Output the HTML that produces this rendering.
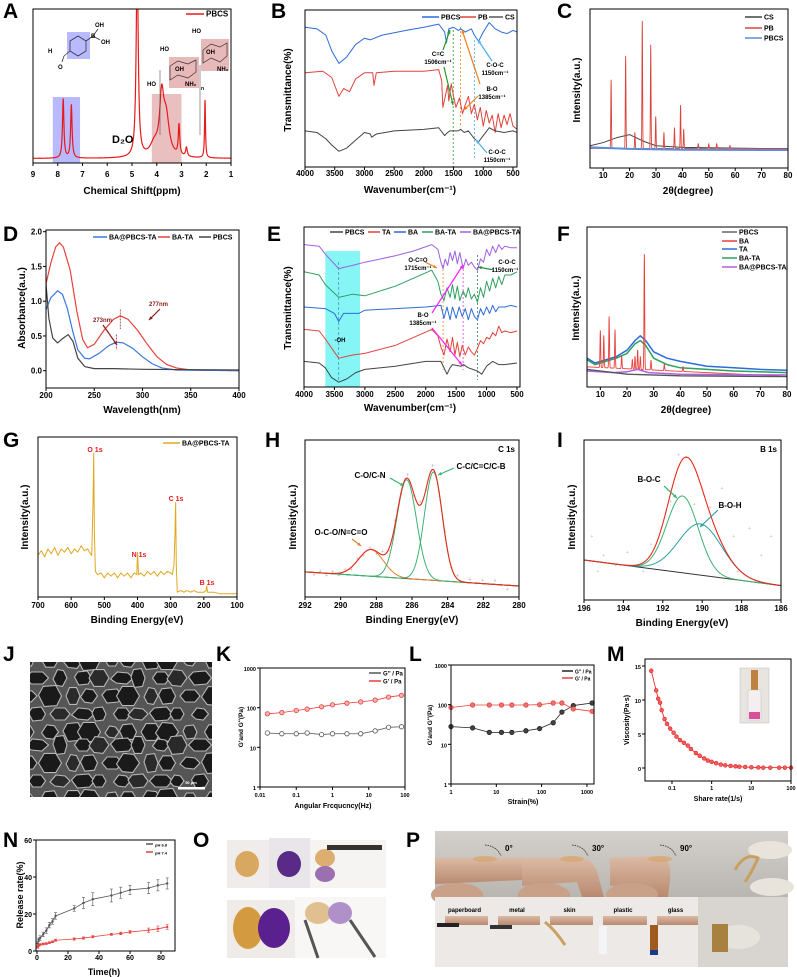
<!DOCTYPE html>
<html><head><meta charset="utf-8"><style>
html,body{margin:0;padding:0;background:#fff}
svg{display:block;font-family:"Liberation Sans",Arial,sans-serif}
text{font-weight:bold}
</style></head><body>
<svg id="fig" width="797" height="977" viewBox="0 0 797 977" xmlns="http://www.w3.org/2000/svg">
<defs>
<linearGradient id="skinbg" x1="0" y1="0" x2="0" y2="1"><stop offset="0" stop-color="#d4d1cd"/><stop offset="1" stop-color="#b9b5b0"/></linearGradient>
<linearGradient id="finger" x1="0" y1="0" x2="0" y2="1"><stop offset="0" stop-color="#dcbaa4"/><stop offset="1" stop-color="#b88a70"/></linearGradient>
<linearGradient id="sem" x1="0" y1="0" x2="1" y2="1"><stop offset="0" stop-color="#3a3a3a"/><stop offset="1" stop-color="#222"/></linearGradient>
</defs>
</svg>
<script>
// ---------------- DATA ----------------
// A: 1H NMR peaks
const nmrPos=[7.78,7.45,4.79,4.1,3.8,3.62,3.1,2.8,2.05];
const nmrHeight=[0.39,0.35,1.3,0.08,0.36,0.25,0.2,0.06,0.38];
const nmrWidth=[0.035,0.035,0.05,0.2,0.1,0.15,0.035,0.04,0.022];
// B: FTIR
const bPBCS=[[4000,89],[3800,88],[3650,84],[3550,74],[3430,66],[3300,70],[3150,78],[3000,82],[2900,81],[2700,84],[2300,87],[2000,89],[1750,91],[1650,86],[1620,79],[1580,88],[1500,89],[1420,87],[1380,88],[1300,86],[1200,88],[1150,84],[1080,80],[1000,86],[900,92],[800,88],[700,86],[600,85],[500,87],[430,86]];
const bPB=[[4000,60],[3700,61],[3550,57],[3430,45],[3350,50],[3250,48],[3150,56],[3000,60],[2860,60],[2840,52],[2800,60],[2500,61],[2000,61],[1750,62],[1700,55],[1680,38],[1640,45],[1600,52],[1580,42],[1540,53],[1500,45],[1460,38],[1400,44],[1350,34],[1300,40],[1250,45],[1200,34],[1150,40],[1100,30],[1050,38],[1000,26],[950,36],[900,28],[850,33],[800,22],[750,34],[700,25],[650,33],[600,27],[550,34],[500,26],[430,24]];
const bCS=[[4000,23],[3800,22],[3650,18],[3550,14],[3430,10],[3300,12],[3150,17],[3000,22],[2900,21],[2880,19],[2800,21],[2500,23],[2000,24],[1750,25],[1650,20],[1600,22],[1560,23],[1420,23],[1380,24],[1320,22],[1250,23],[1150,18],[1080,16],[1000,20],[900,25],[800,23],[650,22],[500,23],[430,22]];
// C: XRD
const cPBpos=[13,18.5,22,24.8,28,29.9,33,37,39.3,40.5,46,50,53,58];
const cPBh=[43,58,10,80,65,20,10,13,27,12,3,3,3,2];
const cCS=[[5,14],[10,16],[15,19],[20,21],[25,17],[30,14],[40,13],[60,12.5],[80,12]];
const cPBCS=[[5,13],[20,12],[40,11.5],[80,11.3]];
// D: UV-vis
const dBATA=[[200,1.25],[205,1.55],[210,1.78],[214,1.84],[218,1.78],[225,1.45],[232,0.85],[238,0.45],[243,0.33],[250,0.38],[260,0.58],[270,0.74],[277,0.79],[285,0.74],[295,0.58],[305,0.38],[315,0.2],[325,0.09],[335,0.04],[350,0.01],[400,0.0]];
const dBAPBCS=[[200,0.88],[205,1.05],[212,1.15],[217,1.1],[222,0.9],[228,0.55],[233,0.3],[240,0.18],[245,0.17],[255,0.25],[265,0.36],[273,0.41],[280,0.4],[290,0.32],[300,0.2],[310,0.1],[320,0.04],[335,0.01],[400,0]];
const dPBCS=[[200,1.25],[203,0.75],[207,0.47],[212,0.4],[217,0.46],[223,0.52],[228,0.42],[233,0.18],[240,0.06],[250,0.03],[270,0.03],[300,0.02],[400,0.01]];
// E: FTIR
const eBAPBCS=[[4000,89],[3750,88],[3650,83],[3430,74],[3200,76],[3000,78],[2500,82],[2200,85],[1900,89],[1800,86],[1750,78],[1715,74],[1680,80],[1640,76],[1600,84],[1560,79],[1520,85],[1480,77],[1440,84],[1385,74],[1340,80],[1300,76],[1250,78],[1200,75],[1150,73],[1100,80],[1050,78],[1000,86],[950,82],[900,88],[850,84],[800,89],[750,86],[700,88],[600,87],[500,87]];
const eBATA=[[4000,72],[3750,70],[3650,64],[3430,56],[3200,58],[3000,57],[2500,63],[2200,68],[1900,73],[1800,66],[1750,58],[1700,54],[1650,62],[1600,56],[1560,64],[1520,55],[1480,63],[1440,54],[1385,60],[1340,56],[1300,62],[1250,55],[1200,58],[1150,53],[1100,62],[1050,56],[1000,66],[950,60],[900,68],[850,62],[800,69],[750,64],[700,70],[600,70],[500,72]];
const eBA=[[4000,50],[3650,49],[3500,46],[3430,41],[3350,46],[3100,46],[3000,48],[2500,49],[2000,50],[1750,51],[1700,43],[1650,50],[1600,42],[1560,50],[1500,43],[1450,50],[1400,44],[1350,49],[1300,42],[1250,49],[1200,44],[1150,42],[1100,49],[1050,45],[1000,50],[950,46],[900,51],[850,47],[800,50],[700,50],[600,51],[500,50]];
const eTA=[[4000,36],[3750,35],[3650,30],[3430,18],[3200,20],[3000,21],[2500,26],[2200,31],[1900,36],[1800,32],[1750,25],[1700,20],[1650,30],[1600,22],[1560,31],[1520,20],[1480,28],[1440,19],[1400,26],[1350,20],[1300,25],[1250,22],[1200,20],[1150,24],[1100,29],[1050,27],[1000,31],[950,30],[900,34],[850,32],[800,38],[750,34],[700,35],[600,34],[500,35]];
const ePBCS=[[4000,16],[3750,15],[3650,12],[3550,6],[3430,3],[3300,5],[3150,9],[3000,11],[2500,13],[2000,16],[1750,16],[1650,8],[1600,12],[1560,14],[1420,13],[1380,14],[1300,12],[1150,10],[1080,8],[1000,13],[900,16],[800,14],[700,14],[500,15]];
// F: XRD
const fBApos=[10,11.3,13.3,15.5,18,22,23,24,25,26.5,29,34,41];
const fBAh=[23,20,32,24,8,6,8,12,8,72,6,4,3];
const fTA=[[5,18],[8,15],[12,17],[16,19],[20,23],[23,29],[25,32],[27,29],[30,22],[35,18],[40,16],[50,13],[60,12],[70,11],[80,10.5]];
const fBATA=[[5,17],[8,14],[12,16],[16,18],[20,21],[23,27],[25,29],[27,26],[30,18],[35,14],[40,12],[50,11],[60,10],[70,9.5],[80,9]];
const fBAPBCS=[[5,10],[15,9],[20,9.5],[24,11],[28,9],[40,8],[80,7.5]];
const fPBCS=[[5,11],[20,8],[40,7],[80,6.5]];
// G: XPS survey
const gSurvey=[[700,26],[690,29],[680,25],[670,30],[660,27],[650,31],[640,26],[630,30],[620,28],[610,31],[600,27],[590,30],[580,28],[570,32],[560,29],[550,30],[545,28],[538,26],[534,60],[532,90],[530,40],[527,16],[520,14],[510,15],[500,12],[490,15],[480,13],[470,15],[460,12],[450,15],[440,13],[430,15],[420,12],[410,15],[402,14],[400,28],[397,14],[390,15],[380,13],[370,16],[360,14],[350,16],[340,13],[330,16],[320,14],[310,16],[300,15],[295,14],[290,20],[287,40],[285,59],[283,20],[280,3],[270,4],[260,3],[250,4],[240,3],[230,4],[220,3],[210,3],[200,3],[193,4],[191,7],[189,3],[170,3],[150,2],[130,2],[100,2]];
// H: C1s fit
const hPos=[288.3,286.3,284.8];
const hHeight=[17,63,69];
const hSigma=[0.7,0.55,0.5];
const hBase=[16,7];
// I: B1s fit
const iPos=[191.0,190.1];
const iHeight=[48,32];
const iSigma=[0.8,1.1];
const iBase=[25,9];
// K: frequency sweep
const kFreq=[0.016,0.04,0.1,0.2,0.5,1,2.5,6,15,35,80];
const kGpp=[23,22,22,23,21,22,22,22,26,32,33];
const kGp=[70,75,85,92,105,118,130,140,155,185,205];
// L: strain sweep
const lStrain=[1,3,7,13,22,45,90,180,280,500,1300];
const lGpp=[28,26,20,20,20,22,25,35,65,95,110];
const lGp=[85,98,98,98,98,98,100,110,110,78,68];
// M: viscosity
const mRate=[0.03,0.04,0.045,0.05,0.055,0.065,0.075,0.09,0.11,0.13,0.16,0.2,0.25,0.3,0.4,0.5,0.65,0.8,1,1.3,1.7,2.2,3,4,5,7,10,15,20,30,50,70,100];
const mVisc=[14.3,11.4,10.2,9.6,8.5,7.2,6.5,5.8,5.2,4.6,4.1,3.7,3.3,2.8,2.2,1.8,1.4,1.1,0.9,0.7,0.5,0.4,0.3,0.25,0.2,0.15,0.1,0.08,0.05,0.05,0.05,0.05,0.05];
// N: release
const nTime=[0.5,1,2,4,6,8,10,12,24,30,36,48,54,60,72,78,84];
const n68=[4,6,7,9,11,14,16,19,23,26,28,30,31.5,33,34,35.5,36.5];
const n68err=[1,1,1.2,1.2,1.5,1.5,1.5,1.8,1.5,3,3.5,3.5,3,2.5,3,3,3];
const n74=[2,3,3.5,3.8,4,4.5,5,5.8,6.5,7,7.7,9,9.5,10.3,11.2,12,13];
const n74err=[0.5,0.5,0.5,0.5,0.5,0.5,0.5,0.6,0.6,0.6,0.6,0.6,0.7,0.7,1.2,1.5,1.3];

// ---------------- HELPERS ----------------
const NS='http://www.w3.org/2000/svg';
const svg=document.getElementById('fig');
function mk(tag,attrs,parent){const e=document.createElementNS(NS,tag);for(const k in attrs)e.setAttribute(k,attrs[k]);(parent||svg).appendChild(e);return e;}
function lin(d0,d1,r0,r1){return v=>r0+(v-d0)/(d1-d0)*(r1-r0);}
function lg(d0,d1,r0,r1){return v=>r0+(Math.log10(v)-Math.log10(d0))/(Math.log10(d1)-Math.log10(d0))*(r1-r0);}
function txt(g,x,y,s,o,name){const t=mk('text',Object.assign({x:x,y:y,'font-size':8,fill:'#000'},o||{}),g);t.textContent=s;


return t;}
let clipId=0;
function panel(name,b){const g=mk('g',{});


const id='cl'+(clipId++);const cp=mk('clipPath',{id:id},g);mk('rect',{x:b.x1,y:b.y1,width:b.x2-b.x1,height:b.y2-b.y1},cp);
const inner=mk('g',{'clip-path':'url(#'+id+')'},g);


return {g:g,inner:inner,b:b};}
function frame(P){const b=P.b;const r=mk('rect',{x:b.x1,y:b.y1,width:b.x2-b.x1,height:b.y2-b.y1,fill:'none',stroke:'#000','stroke-width':1},P.g);

}
function xticks(P,sx,ticks,labels,ly,fs){const b=P.b;ticks.forEach((t,i)=>{const x=sx(t);const l=mk('line',{x1:x,x2:x,y1:b.y2,y2:b.y2+3,stroke:'#000'},P.g);


txt(P.g,x,ly,labels[i],{'text-anchor':'middle','font-size':fs||8},'x-tick-label');});}
function yticks(P,sy,ticks,labels,fs){const b=P.b;ticks.forEach((t,i)=>{const y=sy(t);const l=mk('line',{x1:b.x1-3,x2:b.x1,y1:y,y2:y,stroke:'#000'},P.g);


txt(P.g,b.x1-4,y+3,labels[i],{'text-anchor':'end','font-size':fs||8},'y-tick-label');});}
function ytitle(P,x,cy,s,fs){const t=txt(P.g,x,cy,s,{'text-anchor':'middle','font-size':fs||10,transform:'rotate(-90 '+x+' '+cy+')'},'y-axis-title');return t;}
function xtitle(P,cx,y,s,fs){return txt(P.g,cx,y,s,{'text-anchor':'middle','font-size':fs||10},'x-axis-title');}
function line(parent,pts,sx,sy,color,w,name,dash){const d=pts.map((p,i)=>(i?'L':'M')+sx(p[0]).toFixed(2)+' '+sy(p[1]).toFixed(2)).join('');
const p=mk('path',{d:d,fill:'none',stroke:color,'stroke-width':w||1,'stroke-linejoin':'round'},parent);if(dash)p.setAttribute('stroke-dasharray',dash);


return p;}
function seg(parent,x1,y1,x2,y2,color,w,dash,name){const l=mk('line',{x1:x1,y1:y1,x2:x2,y2:y2,stroke:color,'stroke-width':w||1},parent);if(dash)l.setAttribute('stroke-dasharray',dash);


return l;}
function legend(parent,x,y,color,label,len,fs,name){seg(parent,x,y,x+len,y,color,1.5,null,'legend-swatch');txt(parent,x+len+2,y+2.5,label,{'font-size':fs||7},name||'legend-entry');}
function letter(s,x,y){txt(svg,x,y,s,{'font-size':21,'font-family':'Liberation Sans Narrow, Liberation Sans, sans-serif'},'panel-label-'+s.toLowerCase());}
function arrow(parent,x1,y1,x2,y2,color){seg(parent,x1,y1,x2,y2,color,1.2,null,'annotation-arrow');const a=Math.atan2(y2-y1,x2-x1),h=4;
const p=mk('polygon',{points:`${x2},${y2} ${x2-h*Math.cos(a-0.45)},${y2-h*Math.sin(a-0.45)} ${x2-h*Math.cos(a+0.45)},${y2-h*Math.sin(a+0.45)}`,fill:color},parent);

}
function peaksCurve(x0,x1,step,pos,h,wd,kind,baseFn){const pts=[];for(let x=x0;(step>0?x<=x1:x>=x1);x+=step){let v=baseFn(x);for(let i=0;i<pos.length;i++){const d=x-pos[i];v+=kind==='L'?h[i]*wd[i]*wd[i]/(d*d+wd[i]*wd[i]):h[i]*Math.exp(-d*d/(2*wd[i]*wd[i]));}pts.push([x,v]);}return pts;}
function gauss(x0,x1,step,c,h,s,baseFn){const pts=[];for(let x=x0;x>=x1;x-=step){pts.push([x,baseFn(x)+h*Math.exp(-(x-c)*(x-c)/(2*s*s))]);}return pts;}

// ---------------- A ----------------
(function(){const P=panel('panel-a-nmr',{x1:33,y1:9,x2:231,y2:163});const sx=lin(9,1,33,231),sy=lin(0,1,160,9);
const hl1=mk('rect',{x:sx(8.2),y:97,width:sx(7.1)-sx(8.2),height:66,fill:'#8080ff',opacity:0.55},P.inner);


const hl2=mk('rect',{x:sx(4.2),y:94,width:sx(3.0)-sx(4.2),height:69,fill:'#d98a8a',opacity:0.55},P.inner);


line(P.inner,peaksCurve(9,1,-0.005,nmrPos,nmrHeight,nmrWidth,'L',()=>0.01),sx,sy,'#e8191a',1.2,'pbcs-spectrum');
frame(P);xticks(P,sx,[9,8,7,6,5,4,3,2,1],['9','8','7','6','5','4','3','2','1'],177);xtitle(P,132,194,'Chemical Shift(ppm)');
legend(P.g,186,14,'#e8191a','PBCS',18,8);
txt(P.g,112,143,'D₂O',{'font-size':11},'d2o-label');
const s=P.g;
const r1=mk('rect',{x:67,y:32,width:23,height:27,fill:'#8080ff',opacity:0.55},s);
const r2=mk('rect',{x:169,y:57,width:30,height:31,fill:'#d98a8a',opacity:0.6},s);
const r3=mk('rect',{x:201,y:39,width:28,height:32,fill:'#d98a8a',opacity:0.6},s);
const hx=mk('polygon',{points:'78,36 86,41 86,51 78,56 70,51 70,41',fill:'none',stroke:'#333','stroke-width':0.8},s);
seg(s,86,41,93,36,'#333',0.8);seg(s,93,36,98,29,'#333',0.8);seg(s,93,36,100,40,'#333',0.8);seg(s,70,51,64,56,'#333',0.8);seg(s,64,56,62,62,'#333',0.8);
txt(s,95,27,'OH',{'font-size':6,'font-weight':'normal'},'oh-label');txt(s,91,38,'B',{'font-size':6,'font-weight':'normal'},'b-label');txt(s,101,44,'OH',{'font-size':6,'font-weight':'normal'},'oh-label');
txt(s,48,53,'H',{'font-size':6,'font-weight':'normal'},'h-label');txt(s,58,69,'O',{'font-size':6,'font-weight':'normal'},'o-label');
seg(s,160,70,160,135,'#555',0.6);seg(s,200,65,200,135,'#555',0.6);
const ch1=mk('polyline',{points:'170,66 178,61 188,64 196,60 196,72 188,78 178,75 170,80 170,66',fill:'none',stroke:'#333','stroke-width':0.7},s);
const ch2=mk('polyline',{points:'203,50 211,44 220,47 227,43 227,56 220,62 211,58 203,63 203,50',fill:'none',stroke:'#333','stroke-width':0.7},s);
txt(s,160,51,'HO',{'font-size':6,'font-weight':'normal'},'ho-label');txt(s,192,33,'HO',{'font-size':6,'font-weight':'normal'},'ho-label');
txt(s,147,86,'HO',{'font-size':6,'font-weight':'normal'},'ho-label');txt(s,175,71,'OH',{'font-size':6,'font-weight':'normal'},'oh-label');
txt(s,206,54,'OH',{'font-size':6,'font-weight':'normal'},'oh-label');txt(s,185,86,'NH₂',{'font-size':6,'font-weight':'normal'},'nh2-label');
txt(s,217,71,'NH₂',{'font-size':6,'font-weight':'normal'},'nh2-label');txt(s,201,90,'n',{'font-size':5,'font-weight':'normal'},'n-label');
})();

// ---------------- B ----------------
(function(){const P=panel('panel-b-ftir',{x1:305,y1:10,x2:517,y2:167});const sx=lin(4000,500,305,513),sy=lin(0,100,167,10);
seg(P.inner,sx(1506),30,sx(1506),167,'#2a9a2a',0.8,'2,2','dash-1506');seg(P.inner,sx(1385),27,sx(1385),125,'#f08020',0.8,'2,2','dash-1385');seg(P.inner,sx(1150),40,sx(1150),160,'#4aaee8',0.8,'2,2','dash-1150');
line(P.inner,bPBCS,sx,sy,'#2d6bd8',1,'pbcs-line');line(P.inner,bPB,sx,sy,'#e0443c',1,'pb-line');line(P.inner,bCS,sx,sy,'#444',1,'cs-line');
frame(P);xticks(P,sx,[4000,3500,3000,2500,2000,1500,1000,500],['4000','3500','3000','2500','2000','1500','1000','500'],176);
xtitle(P,410,193,'Wavenumber(cm⁻¹)');ytitle(P,291,90,'Transmittance(%)');
legend(P.g,422,17,'#2d6bd8','PBCS',17);legend(P.g,460,17,'#e0443c','PB',16);legend(P.g,489,17,'#555','CS',14);
txt(P.g,438,56,'C=C',{'font-size':6,'text-anchor':'middle'});txt(P.g,438,64,'1506cm⁻¹',{'font-size':6,'text-anchor':'middle'});
arrow(P.g,444,67,453,105,'#2a9a2a');arrow(P.g,443,50,450,30,'#2a9a2a');
txt(P.g,495,67,'C-O-C',{'font-size':6,'text-anchor':'middle'});txt(P.g,495,75,'1150cm⁻¹',{'font-size':6,'text-anchor':'middle'});
arrow(P.g,492,61,478,40,'#4aaee8');arrow(P.g,480,84,462,30,'#f08020');
txt(P.g,492,91,'B-O',{'font-size':6,'text-anchor':'middle'});txt(P.g,492,99,'1385cm⁻¹',{'font-size':6,'text-anchor':'middle'});arrow(P.g,478,96,464,110,'#f08020');
txt(P.g,497,154,'C-O-C',{'font-size':6,'text-anchor':'middle'});txt(P.g,497,162,'1150cm⁻¹',{'font-size':6,'text-anchor':'middle'});arrow(P.g,487,153,476,140,'#4aaee8');
})();

// ---------------- C ----------------
(function(){const P=panel('panel-c-xrd',{x1:590,y1:9,x2:788,y2:168});const sx=lin(5,80,590,788),sy=lin(0,100,168,9);
line(P.inner,cCS,sx,sy,'#444',1,'cs-line');
line(P.inner,peaksCurve(5,80,0.05,cPBpos,cPBh,cPBpos.map(()=>0.12),'G',x=>12.3),sx,sy,'#d9453e',0.9,'pb-line');
line(P.inner,cPBCS,sx,sy,'#5a8fd8',2,'pbcs-line');
frame(P);xticks(P,sx,[10,20,30,40,50,60,70,80],['10','20','30','40','50','60','70','80'],178);
xtitle(P,688,194,'2θ(degree)');ytitle(P,580,90,'Intensity(a.u.)');
legend(P.g,745,17,'#444','CS',17);legend(P.g,745,28,'#d9453e','PB',17);legend(P.g,745,38,'#5a8fd8','PBCS',17);
})();

// ---------------- D ----------------
(function(){const P=panel('panel-d-uv',{x1:46,y1:230,x2:239,y2:388});const sx=lin(200,400,46,239),sy=lin(0,2,370.7,231.7);
line(P.inner,dBATA,sx,sy,'#e8413c',1.2,'ba-ta-line');line(P.inner,dBAPBCS,sx,sy,'#3a78e0',1.2,'ba-pbcs-ta-line');line(P.inner,dPBCS,sx,sy,'#444',1.2,'pbcs-line');
seg(P.g,sx(277),sy(0.88),sx(277),sy(0.6),'#a33',0.8,'2,1');seg(P.g,sx(273),sy(0.52),sx(273),sy(0.3),'#a33',0.8,'2,1');
txt(P.g,149,306,'277nm',{'font-size':6,fill:'#8b1a1a'});arrow(P.g,160,309,149,320,'#8b1a1a');
txt(P.g,93,322,'273nm',{'font-size':6,fill:'#8b1a1a'});arrow(P.g,103,325,117,345,'#8b1a1a');
frame(P);xticks(P,sx,[200,250,300,350,400],['200','250','300','350','400'],398);yticks(P,sy,[0,0.5,1,1.5,2],['0.0','0.5','1.0','1.5','2.0']);
xtitle(P,142,413,'Wavelength(nm)');ytitle(P,25,308,'Absorbance(a.u.)');
legend(P.g,93,237,'#3a78e0','BA@PBCS-TA',14);legend(P.g,158,237,'#e8413c','BA-TA',12);legend(P.g,199,237,'#444','PBCS',12);
})();

// ---------------- E ----------------
(function(){const P=panel('panel-e-ftir',{x1:304,y1:227,x2:520,y2:387});const sx=lin(4000,500,304,517),sy=lin(0,100,387,227);
const cy=mk('rect',{x:sx(3650),y:251,width:sx(3080)-sx(3650),height:136,fill:'#5cf2f2',opacity:0.75},P.inner);
seg(P.inner,sx(3430),262,sx(3430),380,'#3a8abf',0.7,'3,2','oh-dash');
seg(P.inner,sx(1715),265,sx(1715),370,'#f08020',0.8,'2,2','dash-1715');seg(P.inner,sx(1385),265,sx(1385),370,'#e040e0',0.8,'2,2','dash-1385');seg(P.inner,sx(1150),255,sx(1150),380,'#2a8a4a',0.8,'2,2','dash-1150');
line(P.inner,eBAPBCS,sx,sy,'#a060e0',1,'ba-pbcs-ta-line');line(P.inner,eBATA,sx,sy,'#2ea060',1,'ba-ta-line');line(P.inner,eBA,sx,sy,'#2d6bd8',1,'ba-line');line(P.inner,eTA,sx,sy,'#e0443c',1,'ta-line');line(P.inner,ePBCS,sx,sy,'#444',1,'pbcs-line');
txt(P.g,418,262,'O-C=O',{'font-size':6,'text-anchor':'middle'});txt(P.g,418,270,'1715cm⁻¹',{'font-size':6,'text-anchor':'middle'});arrow(P.g,425,262,437,268,'#f08020');
txt(P.g,507,264,'C-O-C',{'font-size':6,'text-anchor':'middle'});txt(P.g,505,272,'1150cm⁻¹',{'font-size':6,'text-anchor':'middle'});arrow(P.g,494,270,478,267,'#2a8a4a');
txt(P.g,423,317,'B-O',{'font-size':6,'text-anchor':'middle'});txt(P.g,423,325,'1385cm⁻¹',{'font-size':6,'text-anchor':'middle'});
arrow(P.g,432,313,463,265,'#ff20ff');arrow(P.g,432,328,462,365,'#ff20ff');
txt(P.g,340,342,'-OH',{'font-size':6,'text-anchor':'middle'});
frame(P);xticks(P,sx,[4000,3500,3000,2500,2000,1500,1000,500],['4000','3500','3000','2500','2000','1500','1000','500'],397);
xtitle(P,410,411,'Wavenumber(cm⁻¹)');ytitle(P,291,308,'Transmittance(%)');
legend(P.g,330,232,'#444','PBCS',13);legend(P.g,368,232,'#e0443c','TA',12);legend(P.g,394,232,'#2d6bd8','BA',12);legend(P.g,422,232,'#2ea060','BA-TA',11);legend(P.g,460,232,'#a060e0','BA@PBCS-TA',11);
})();

// ---------------- F ----------------
(function(){const P=panel('panel-f-xrd',{x1:587,y1:227,x2:787,y2:387});const sx=lin(5,80,587,787),sy=lin(0,100,387,227);
line(P.inner,fTA,sx,sy,'#2d6bd8',1.5,'ta-line');line(P.inner,fBATA,sx,sy,'#2ea060',1.5,'ba-ta-line');
line(P.inner,peaksCurve(5,80,0.05,fBApos,fBAh,fBApos.map(()=>0.13),'G',x=>13-x*0.08),sx,sy,'#e8413c',0.9,'ba-line');
line(P.inner,fBAPBCS,sx,sy,'#b060e0',1.5,'ba-pbcs-ta-line');line(P.inner,fPBCS,sx,sy,'#555',1.3,'pbcs-line');
frame(P);xticks(P,sx,[10,20,30,40,50,60,70,80],['10','20','30','40','50','60','70','80'],397);
xtitle(P,686,413,'2θ(degree)');ytitle(P,579,308,'Intensity(a.u.)');
legend(P.g,722,232,'#666','PBCS',15);legend(P.g,722,241,'#e8413c','BA',15);legend(P.g,722,249,'#2d6bd8','TA',15);legend(P.g,722,258,'#2ea060','BA-TA',15);legend(P.g,722,267,'#b060e0','BA@PBCS-TA',15);
})();

// ---------------- G ----------------
(function(){const P=panel('panel-g-xps-survey',{x1:38,y1:437,x2:237,y2:597});const sx=lin(700,100,38,237),sy=lin(0,100,597,437);
line(P.inner,gSurvey,sx,sy,'#e0a820',1,'survey-line');
frame(P);xticks(P,sx,[700,600,500,400,300,200,100],['700','600','500','400','300','200','100'],608);
xtitle(P,137,623,'Binding Energy(eV)');ytitle(P,28,517,'Intensity(a.u.)');
legend(P.g,163,443,'#e0a820','BA@PBCS-TA',17);
txt(P.g,95,452,'O 1s',{'font-size':7,fill:'#e8191a','text-anchor':'middle'},'o1s-label');txt(P.g,176,501,'C 1s',{'font-size':7,fill:'#e8191a','text-anchor':'middle'},'c1s-label');
txt(P.g,139,557,'N 1s',{'font-size':7,fill:'#e8191a','text-anchor':'middle'},'n1s-label');txt(P.g,207,585,'B 1s',{'font-size':7,fill:'#e8191a','text-anchor':'middle'},'b1s-label');
})();

// ---------------- H ----------------
(function(){const P=panel('panel-h-c1s',{x1:305,y1:440,x2:519,y2:597});const sx=lin(292,280,305,519),sy=lin(0,100,597,440);
const base=x=>hBase[1]+(x-280)/12*(hBase[0]-hBase[1]);
for(let x=291.5;x>280.5;x-=0.35){const v=base(x)+hPos.reduce((a,c,i)=>a+hHeight[i]*Math.exp(-(x-c)*(x-c)/(2*hSigma[i]*hSigma[i])),0);
const c=mk('text',{x:sx(x),y:sy(v+((Math.round(x*7)%5)-2)*1.2)+2,'font-size':5,fill:'#bbb','text-anchor':'middle'},P.inner);c.textContent='+';

}
line(P.inner,[[292,base(292)],[280,base(280)]],sx,sy,'#333',1,'background-line');
line(P.inner,gauss(292,280,0.05,hPos[0],hHeight[0],hSigma[0],base),sx,sy,'#e08030',1,'oco-component');
line(P.inner,gauss(292,280,0.05,hPos[1],hHeight[1],hSigma[1],base),sx,sy,'#3cb371',1,'co-component');
line(P.inner,gauss(292,280,0.05,hPos[2],hHeight[2],hSigma[2],base),sx,sy,'#3cb371',1,'cc-component');
line(P.inner,peaksCurve(292,280,-0.05,hPos,hHeight,hSigma,'G',base),sx,sy,'#e8291a',1.1,'envelope');
frame(P);xticks(P,sx,[292,290,288,286,284,282,280],['292','290','288','286','284','282','280'],608);
xtitle(P,412,623,'Binding Energy(eV)');ytitle(P,296,517,'Intensity(a.u.)');
txt(P.g,515,452,'C 1s',{'font-size':8,'text-anchor':'end'});
txt(P.g,370,478,'C-O/C-N',{'font-size':8,'text-anchor':'middle'});arrow(P.g,390,478,404,486,'#3cb371');
txt(P.g,481,469,'C-C/C=C/C-B',{'font-size':8,'text-anchor':'middle'});arrow(P.g,454,468,438,475,'#3cb371');
txt(P.g,341,535,'O-C-O/N=C=O',{'font-size':8,'text-anchor':'middle'});arrow(P.g,352,539,361,546,'#e08030');
})();

// ---------------- I ----------------
(function(){const P=panel('panel-i-b1s',{x1:584,y1:440,x2:781,y2:600});const sx=lin(196,186,584,781),sy=lin(0,100,600,440);
const base=x=>iBase[1]+(x-186)/10*(iBase[0]-iBase[1]);
const scat=[[195.6,40],[195,28],[194.4,22],[193.8,30],[192.6,35],[191.6,62],[190.4,60],[189.6,58],[189,70],[188.4,40],[187.6,45],[187,28],[186.5,40],[195.3,18],[193,18],[191.2,91],[188.2,18]];
scat.forEach(p=>{const c=mk('text',{x:sx(p[0]),y:sy(p[1])+2,'font-size':5,fill:'#ccc','text-anchor':'middle'},P.inner);c.textContent='+';

});
line(P.inner,[[196,base(196)],[186,base(186)]],sx,sy,'#333',1,'background-line');
line(P.inner,gauss(196,186,0.05,iPos[0],iHeight[0],iSigma[0],base),sx,sy,'#3cb371',1,'boc-component');
line(P.inner,gauss(196,186,0.05,iPos[1],iHeight[1],iSigma[1],base),sx,sy,'#2aa0a0',1,'boh-component');
line(P.inner,peaksCurve(196,186,-0.05,iPos,iHeight,iSigma,'G',base),sx,sy,'#e8291a',1.1,'envelope');
frame(P);xticks(P,sx,[196,194,192,190,188,186],['196','194','192','190','188','186'],611);
xtitle(P,682,626,'Binding Energy(eV)');ytitle(P,575,517,'Intensity(a.u.)');
txt(P.g,777,452,'B 1s',{'font-size':8,'text-anchor':'end'});
txt(P.g,649,482,'B-O-C',{'font-size':8,'text-anchor':'middle'});arrow(P.g,664,486,677,498,'#3cb371');
txt(P.g,730,508,'B-O-H',{'font-size':8,'text-anchor':'middle'});arrow(P.g,718,510,700,527,'#2aa0a0');
})();

// ---------------- J (SEM) ----------------
(function(){const g=mk('g',{});
const bg=mk('rect',{x:30,y:662,width:182,height:135,fill:'#555'},g);
const cp=mk('clipPath',{id:'semclip'},g);mk('rect',{x:30,y:662,width:182,height:135},cp);
const gg=mk('g',{'clip-path':'url(#semclip)',stroke:'#b8b8b8','stroke-width':1.1},g);
for(let r=0;r<9;r++){for(let c=0;c<10;c++){const cx=30+c*20+(r%2)*10+((r*7+c*3)%7)-3,cy=662+r*17+((c*5+r)%5)-2,w=7+((r*3+c)%4)*1.5,h=6+((r*c+c)%4)*1.2;
const sh=((r+c)%3)-1;
const p=mk('polygon',{points:`${cx-w},${cy+sh} ${cx-w/2+sh},${cy-h} ${cx+w/2},${cy-h+sh} ${cx+w},${cy} ${cx+w/2-sh},${cy+h} ${cx-w/2},${cy+h-sh}`,fill:((r+c)%4==0)?'#2a2a2a':'#1a1a1a'},gg);

}}
const sb=mk('rect',{x:178,y:787,width:27,height:2.5,fill:'#fff'},g);
txt(g,191,784,'50 μm',{'font-size':4,fill:'#fff','text-anchor':'middle'},'scale-bar-label');
})();

// ---------------- K ----------------
(function(){const P=panel('panel-k-frequency',{x1:260,y1:668,x2:405,y2:787});const sx=lg(0.01,100,260,405),sy=lg(1,1000,787,668);
line(P.inner,kFreq.map((f,i)=>[f,kGpp[i]]),sx,sy,'#555',0.8,'g-double-prime-line');
line(P.inner,kFreq.map((f,i)=>[f,kGp[i]]),sx,sy,'#e8413c',0.8,'g-prime-line');
kFreq.forEach((f,i)=>{const a=mk('circle',{cx:sx(f),cy:sy(kGpp[i]),r:2.2,fill:'#fff',stroke:'#555','stroke-width':0.8},P.g);


const b=mk('circle',{cx:sx(f),cy:sy(kGp[i]),r:2.2,fill:'#f8b0b0',stroke:'#e8413c','stroke-width':0.8},P.g);

});
frame(P);xticks(P,sx,[0.01,0.1,1,10,100],['0.01','0.1','1','10','100'],797,5.5);yticks(P,sy,[1,10,100,1000],['1','10','100','1000'],5.5);
xtitle(P,333,808,'Angular Frcqucncy(Hz)',7);ytitle(P,243,727,"G'and G''(Pa)",6.5);
legend(P.g,369,673,'#555',"G'' / Pa",12,6);legend(P.g,369,681,'#e8413c',"G' / Pa",12,6);
})();

// ---------------- L ----------------
(function(){const P=panel('panel-l-strain',{x1:451,y1:665,x2:594,y2:784});const sx=lg(1,1430,451,594),sy=lg(1,1000,784,665);
line(P.inner,lStrain.map((f,i)=>[f,lGpp[i]]),sx,sy,'#222',0.8,'g-double-prime-line');
line(P.inner,lStrain.map((f,i)=>[f,lGp[i]]),sx,sy,'#e8413c',0.8,'g-prime-line');
lStrain.forEach((f,i)=>{const a=mk('circle',{cx:sx(f),cy:sy(lGpp[i]),r:2.2,fill:'#444',stroke:'#222','stroke-width':0.8},P.g);


const b=mk('circle',{cx:sx(f),cy:sy(lGp[i]),r:2.2,fill:'#f07070',stroke:'#e8413c','stroke-width':0.8},P.g);

});
frame(P);xticks(P,sx,[1,10,100,1000],['1','10','100','1000'],794,5.5);yticks(P,sy,[1,10,100,1000],['1','10','100','1000'],5.5);
xtitle(P,523,804,'Strain(%)',7);ytitle(P,432,725,"G'and G''(Pa)",6.5);
legend(P.g,562,671,'#222',"G'' / Pa",11,5);legend(P.g,562,678,'#e8413c',"G' / Pa",11,5);
})();

// ---------------- M ----------------
(function(){const P=panel('panel-m-viscosity',{x1:645,y1:659,x2:791,y2:781});const sx=lg(0.0209,100,645,791),sy=lin(0,15,768,666);
line(P.inner,mRate.map((f,i)=>[f,mVisc[i]]),sx,sy,'#e8191a',0.8,'viscosity-line');
mRate.forEach((f,i)=>{const a=mk('circle',{cx:sx(f),cy:sy(mVisc[i]),r:1.9,fill:'#f06060',stroke:'#e8191a','stroke-width':0.6},P.g);

});
const ins=mk('rect',{x:740,y:668,width:29,height:55,fill:'#e8e4e0',stroke:'#bbb','stroke-width':0.5},P.g);
const v1=mk('rect',{x:751,y:670,width:7,height:20,fill:'#c08040'},P.g);
const v2=mk('rect',{x:748,y:690,width:13,height:30,fill:'#f4eef0',stroke:'#bbb','stroke-width':0.4},P.g);
const v3=mk('rect',{x:749,y:712,width:11,height:7,fill:'#d8509a'},P.g);
frame(P);xticks(P,sx,[0.1,1,10,100],['0.1','1','10','100'],790,5.5);yticks(P,sy,[0,5,10,15],['0','5','10','15'],5.5);
xtitle(P,718,801,'Share rate(1/s)',7);ytitle(P,629,720,'Viscosity(Pa·s)',7);
})();

// ---------------- N ----------------
(function(){const P=panel('panel-n-release',{x1:36,y1:840,x2:175,y2:951});const sx=lin(0,80,37,161),sy=lin(0,60,951,840);
[[n68,n68err,'#555','ph68'],[n74,n74err,'#e8413c','ph74']].forEach(s=>{
line(P.g,nTime.map((t,i)=>[t,s[0][i]]),sx,sy,s[2],0.8,s[3]+'-line');
nTime.forEach((t,i)=>{seg(P.g,sx(t),sy(s[0][i]-s[1][i]),sx(t),sy(s[0][i]+s[1][i]),s[2],0.6,null,'error-bar');
seg(P.g,sx(t)-1.5,sy(s[0][i]+s[1][i]),sx(t)+1.5,sy(s[0][i]+s[1][i]),s[2],0.6,null,'error-cap');seg(P.g,sx(t)-1.5,sy(s[0][i]-s[1][i]),sx(t)+1.5,sy(s[0][i]-s[1][i]),s[2],0.6,null,'error-cap');
const c=mk('circle',{cx:sx(t),cy:sy(s[0][i]),r:1.2,fill:s[2]},P.g);

});});
frame(P);xticks(P,sx,[0,20,40,60,80],['0','20','40','60','80'],960,7);yticks(P,sy,[0,20,40,60],['0','20','40','60'],7);
xtitle(P,104,975,'Time(h)',9);ytitle(P,23,895,'Release rate(%)',9);
legend(P.g,146,844,'#555','pH 6.8',7,4);legend(P.g,146,852,'#e8413c','pH 7.4',7,4);
})();

// ---------------- O (photos) ----------------
(function(){const g=mk('g',{});
function r(x,y,w,h,f,n){const e=mk('rect',{x:x,y:y,width:w,height:h,fill:f},g);}
function blob(cx,cy,rx,ry,f,n){const e=mk('ellipse',{cx:cx,cy:cy,rx:rx,ry:ry,fill:f},g);}
r(227,840,42,48,'#efeceb','photo-bg');r(269,838,41,50,'#e9e6ea','photo-bg');r(310,840,76,48,'#f6f4f2','photo-bg');r(227,900,68,58,'#eeebe8','photo-bg');r(295,897,91,61,'#f8f7f5','photo-bg');
blob(247,864,12,13,'#d9a860','orange-gel');blob(289,864,12,13,'#5a2a88','purple-gel');blob(325,858,10,9,'#dcae70','orange-gel');blob(325,874,10,8,'#9a70b0','purple-gel');
r(327,845,55,5,'#333','tweezers');
blob(248,928,15,21,'#d49a40','orange-gel');blob(274,928,16,20,'#5a2090','purple-gel');blob(318,913,13,11,'#e0c090','orange-gel');blob(340,913,12,11,'#b090c8','purple-gel');
seg(g,305,920,318,958,'#555',3,null,'tweezers');seg(g,350,920,375,957,'#555',3,null,'tweezers');
})();

// ---------------- P (photos) ----------------
(function(){const g=mk('g',{});
function r(x,y,w,h,f,n){const e=mk('rect',{x:x,y:y,width:w,height:h,fill:f},g);return e;}
const top=[435,522,610,698,788];const ang=['0°','30°','90°'];
for(let i=0;i<4;i++){r(top[i],831,top[i+1]-top[i],66,'url(#skinbg)','photo-bg');}
for(let i=0;i<3;i++){const x=top[i];
const f=mk('path',{d:i==0?`M${x},858 L${x+87},858 L${x+87},880 L${x},884 Z`:(i==1?`M${x},858 L${x+60},858 Q${x+72},860 ${x+76},875 L${x+82},897 L${x+60},897 L${x+55},882 L${x},886 Z`:`M${x},858 L${x+50},856 Q${x+62},858 ${x+60},880 L${x+58},897 L${x+35},897 L${x+30},884 L${x},886 Z`),fill:'url(#finger)'},g);


const e=mk('ellipse',{cx:x+22,cy:895,rx:26,ry:12,fill:'#c9a088'},g);
const h=mk('ellipse',{cx:x+50,cy:859,rx:12,ry:3,fill:'#d6a870',opacity:0.8},g);
txt(g,x+70,851,ang[i],{'font-size':8},'angle-label');
const a=mk('path',{d:`M${x+50},845 Q${x+62},846 ${x+66},856`,fill:'none',stroke:'#222','stroke-width':0.8,'stroke-dasharray':'1.5,1'},g);}
const gl=mk('ellipse',{cx:770,cy:850,rx:22,ry:9,fill:'#e8e4dc'},g);
const gl2=mk('ellipse',{cx:772,cy:887,rx:22,ry:9,fill:'#e8e4dc'},g);
const st=mk('path',{d:'M735,870 Q745,852 758,858 Q752,872 745,882',fill:'none',stroke:'#c9a060','stroke-width':3},g);
const bot=[435,488,540,593,647,698,788];const lab=['paperboard','metal','skin','plastic','glass'];
for(let i=0;i<6;i++){r(bot[i],897,bot[i+1]-bot[i],70,i==5?'#d8d5d0':'#ece9e6','photo-bg');}
for(let i=0;i<5;i++){const x=bot[i];r(x+10,916,bot[i+1]-x-10,9,'url(#finger)','finger');txt(g,(x+bot[i+1])/2+3,912,lab[i],{'font-size':6,'text-anchor':'middle'},'substrate-label');}
r(437,923,22,4,'#222','paperboard-substrate');r(490,925,22,4,'#333','metal-substrate');
const sk=mk('path',{d:'M545,922 Q555,930 565,945',fill:'none',stroke:'#c8a060','stroke-width':3},g);
r(599,926,8,28,'#f4f4f6','plastic-tube');r(650,925,8,25,'#a05a20','glass-vial');r(650,950,8,5,'#1a3a8a','vial-cap');
const hg=mk('ellipse',{cx:738,cy:937,rx:22,ry:12,fill:'#e6e2dc'},g);
r(712,924,16,28,'#a88040','hydrogel-sample');
})();

// panel letters
[['A',3,18],['B',271,18],['C',557,18],['D',3,241],['E',267,241],['F',557,241],['G',3,447],['H',265,447],['I',557,447],['J',3,661],['K',216,661],['L',409,661],['M',607,661],['N',3,847],['O',193,847],['P',406,847]].forEach(l=>letter(l[0],l[1],l[2]));
</script>
</body></html>
